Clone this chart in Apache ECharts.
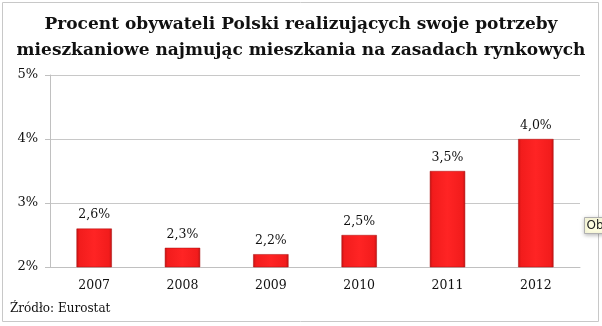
<!DOCTYPE html>
<html lang="pl">
  <head>
    <meta charset="UTF-8" />
    <title>Procent obywateli Polski</title>
    <script src="https://cdn.jsdelivr.net/npm/echarts@6.0.0/dist/echarts.min.js"></script>
    <style>
      html, body { margin: 0; padding: 0; background: #fff; }
    </style>
  </head>
  <body>
    <div id="main" style="width: 602px; height: 326px"></div>

    <script type="text/javascript">
      const years = ["2007", "2008", "2009", "2010", "2011", "2012"];
      const values = [2.6, 2.3, 2.2, 2.5, 3.5, 4.0];
      const yTicks = [2, 3, 4, 5];

      const serif = "DejaVu Serif";
      let myChart = echarts.init(document.getElementById("main"));

      const barColor = new echarts.graphic.LinearGradient(0, 0, 1, 0, [
        { offset: 0, color: "#c41212" },
        { offset: 0.08, color: "#f21c1c" },
        { offset: 0.5, color: "#ff2424" },
        { offset: 0.92, color: "#f21c1c" },
        { offset: 1, color: "#c41212" },
      ]);

      const options = {
        animation: false,
        title: {
          text: "Procent obywateli Polski realizujących swoje potrzeby\nmieszkaniowe najmując mieszkania na zasadach rynkowych",
          left: "center",
          top: 7,
          textStyle: {
            fontFamily: serif,
            fontWeight: "bold",
            fontSize: 17,
            lineHeight: 26,
            color: "#111",
          },
        },
        grid: { left: 50, right: 22, top: 75, bottom: 59 },
        xAxis: {
          type: "category",
          data: years,
          axisLine: { lineStyle: { color: "#c0c0c0" } },
          axisTick: { length: 5, lineStyle: { color: "#c0c0c0" } },
          axisLabel: { fontFamily: serif, fontSize: 12.5, color: "#111", margin: 12 },
        },
        yAxis: {
          type: "value",
          min: yTicks[0],
          max: yTicks[yTicks.length - 1],
          interval: 1,
          axisLine: { show: true, lineStyle: { color: "#c0c0c0" } },
          axisTick: { show: true, length: 5, lineStyle: { color: "#c0c0c0" } },
          splitLine: { lineStyle: { color: "#c8c8c8" } },
          axisLabel: {
            fontFamily: serif,
            fontSize: 13,
            color: "#111",
            margin: 12,
            formatter: "{value}%",
          },
        },
        series: [
          {
            type: "bar",
            data: values,
            barWidth: "40%",
            itemStyle: { color: barColor, borderColor: "#a80e0e", borderWidth: 0.5 },
            label: {
              show: true,
              position: "top",
              distance: 7,
              fontFamily: serif,
              fontSize: 12.5,
              color: "#111",
              formatter: (p) => p.value.toFixed(1).replace(".", ",") + "%",
            },
          },
        ],
        graphic: [
          {
            type: "rect",
            shape: { x: 2.5, y: 2.5, width: 596, height: 319 },
            style: { fill: "none", stroke: "#c8c8c8", lineWidth: 1 },
            silent: true,
          },
          {
            type: "text",
            left: 10,
            top: 303,
            style: { text: "Źródło: Eurostat", font: "12px 'DejaVu Serif'", fill: "#111" },
          },
          {
            type: "group",
            left: 584,
            top: 217,
            children: [
              {
                type: "rect",
                shape: { x: 0, y: 0, width: 30, height: 16 },
                style: {
                  fill: "#ffffe1",
                  stroke: "#b0b0b0",
                  lineWidth: 1,
                  shadowBlur: 4,
                  shadowColor: "rgba(0,0,0,0.25)",
                  shadowOffsetY: 1,
                },
              },
              {
                type: "text",
                x: 2,
                y: 2,
                style: { text: "Obs", font: "12px 'DejaVu Sans'", fill: "#222" },
              },
            ],
          },
        ],
      };

      myChart.setOption(options);
    </script>
  </body>
</html>
